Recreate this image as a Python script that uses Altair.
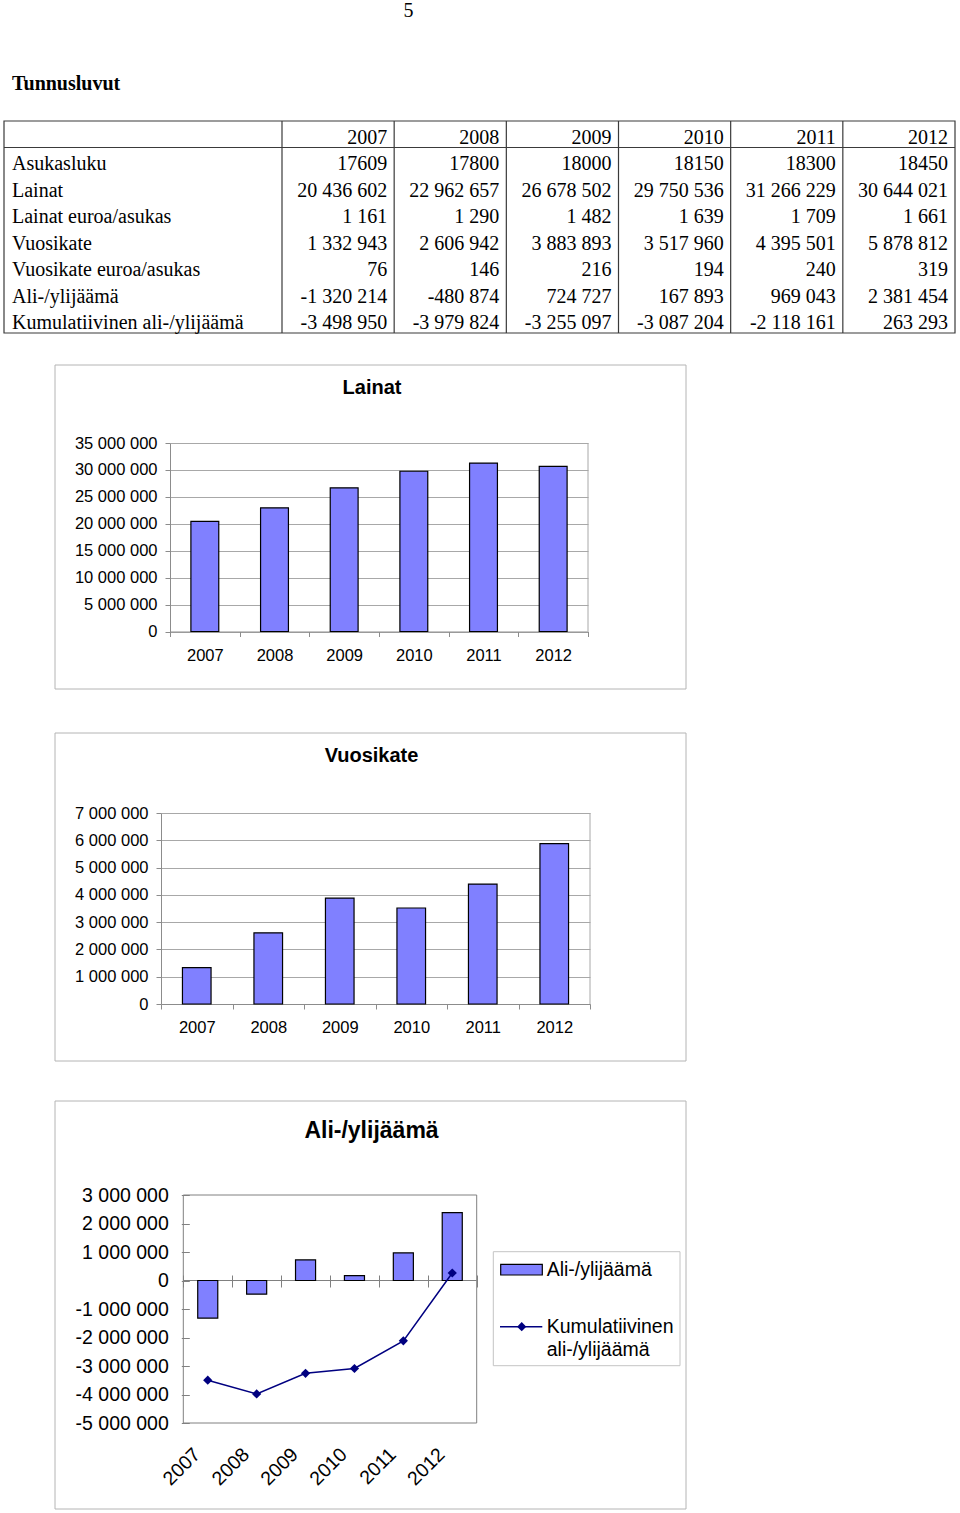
import altair as alt
import pandas as pd

# ---------------- data ----------------
YEARS = ["2007", "2008", "2009", "2010", "2011", "2012"]
ROW_NAMES = ["Asukasluku", "Lainat", "Lainat euroa/asukas", "Vuosikate",
             "Vuosikate euroa/asukas", "Ali-/ylijäämä", "Kumulatiivinen ali-/ylijäämä"]
ASUKASLUKU = [17609, 17800, 18000, 18150, 18300, 18450]
LAINAT = [20436602, 22962657, 26678502, 29750536, 31266229, 30644021]
LAINAT_PER_ASUKAS = [1161, 1290, 1482, 1639, 1709, 1661]
VUOSIKATE = [1332943, 2606942, 3883893, 3517960, 4395501, 5878812]
VUOSIKATE_PER_ASUKAS = [76, 146, 216, 194, 240, 319]
ALIJAAMA = [-1320214, -480874, 724727, 167893, 969043, 2381454]
KUMULATIIVINEN = [-3498950, -3979824, -3255097, -3087204, -2118161, 263293]

LAINAT_TICKS = [0, 5000000, 10000000, 15000000, 20000000, 25000000, 30000000, 35000000]
VUOSIKATE_TICKS = [0, 1000000, 2000000, 3000000, 4000000, 5000000, 6000000, 7000000]
ALIJAAMA_TICKS = [-5000000, -4000000, -3000000, -2000000, -1000000, 0,
                  1000000, 2000000, 3000000]

PAGE_NUMBER = "5"
HEADING = "Tunnusluvut"
CHART_TITLES = ["Lainat", "Vuosikate", "Ali-/ylijäämä"]
LEGEND_BAR = "Ali-/ylijäämä"
LEGEND_LINE = ["Kumulatiivinen", "ali-/ylijäämä"]

# ---------------- style ----------------
W, H = 960, 1513
SANS = "Liberation Sans"
SERIF = "Liberation Serif"
BAR_FILL = "#8080FF"
NAVY = "#000080"
GRID = "#a8a8a8"
AXIS_GRAY = "#8c8c8c"
FRAME = "#b4b4b4"
DARK_FRAME = "#808080"
TABLE_LINE = "#3a3a3a"


def spaced(v):
    s = f"{abs(v):,}".replace(",", " ")
    return ("-" if v < 0 else "") + s


def one(**kw):
    return pd.DataFrame({k: [v] for k, v in kw.items()})


def box(x0, x1, y0, y1, stroke, fill="white", fill_opacity=0.0, sw=1.0):
    return alt.Chart(one(k=0)).mark_rect(
        fill=fill, fillOpacity=fill_opacity, stroke=stroke, strokeWidth=sw
    ).encode(x=alt.value(x0), x2=alt.value(x1), y=alt.value(y0), y2=alt.value(y1))


def text(t, x, y, size, font=SANS, weight="normal", align="center", baseline="middle"):
    return alt.Chart(one(t=t)).mark_text(
        align=align, baseline=baseline, font=font, fontSize=size,
        fontWeight=weight, color="black"
    ).encode(text="t:N", x=alt.value(x), y=alt.value(y))


def hline(x0, x1, y, color, sw=1.0):
    return alt.Chart(one(k=0)).mark_rule(color=color, strokeWidth=sw).encode(
        x=alt.value(x0), x2=alt.value(x1), y=alt.value(y))


def vline(x, y0, y1, color, sw=1.0):
    return alt.Chart(one(k=0)).mark_rule(color=color, strokeWidth=sw).encode(
        x=alt.value(x), y=alt.value(y0), y2=alt.value(y1))


# ---------------- header ----------------
header = alt.layer(
    text(PAGE_NUMBER, 408.5, 16.7, 20, font=SERIF, baseline="alphabetic"),
    text(HEADING, 12, 90, 20, font=SERIF, weight="bold", align="left", baseline="alphabetic"),
)

# ---------------- table ----------------
row_values = [
    (ASUKASLUKU, False), (LAINAT, True), (LAINAT_PER_ASUKAS, True), (VUOSIKATE, True),
    (VUOSIKATE_PER_ASUKAS, True), (ALIJAAMA, True), (KUMULATIIVINEN, True),
]
cells = [{"row": "hdr", "year": y, "label": y} for y in YEARS]
for name, (vals, sp) in zip(ROW_NAMES, row_values):
    for y, v in zip(YEARS, vals):
        cells.append({"row": name, "year": y, "label": spaced(v) if sp else str(v)})
cells_df = pd.DataFrame(cells)
rows_df = pd.DataFrame({"row": ROW_NAMES})

row_scale = alt.Scale(domain=["hdr"] + ROW_NAMES, range=[121, 333], paddingInner=0, paddingOuter=0)
col_scale = alt.Scale(domain=YEARS, range=[282, 955], paddingInner=0, paddingOuter=0)

table_cells = alt.Chart(cells_df).mark_text(
    align="right", baseline="alphabetic", dx=-7, dy=22.5, font=SERIF, fontSize=20, color="black"
).encode(
    x=alt.X("year:N", scale=col_scale, bandPosition=1, axis=None),
    y=alt.Y("row:N", scale=row_scale, bandPosition=0, axis=None),
    text="label:N",
)
table_rows = alt.Chart(rows_df).mark_text(
    align="left", baseline="alphabetic", dy=22.5, font=SERIF, fontSize=20, color="black"
).encode(
    x=alt.value(12),
    y=alt.Y("row:N", scale=row_scale, bandPosition=0, axis=None),
    text="row:N",
)
table_vlines = alt.Chart(pd.DataFrame({"year": YEARS})).mark_rule(color=TABLE_LINE, strokeWidth=1.2).encode(
    x=alt.X("year:N", scale=col_scale, bandPosition=0, axis=None),
    y=alt.value(121), y2=alt.value(333),
)
table_hline = alt.Chart(pd.DataFrame({"row": [ROW_NAMES[0]]})).mark_rule(color=TABLE_LINE, strokeWidth=1.2).encode(
    y=alt.Y("row:N", scale=row_scale, bandPosition=0, axis=None),
    x=alt.value(4), x2=alt.value(955),
)
table = alt.layer(
    box(4, 955, 121, 333, TABLE_LINE, sw=1.2),
    table_vlines, table_hline, table_rows, table_cells,
)


# ---------------- bar charts (Lainat, Vuosikate) ----------------
def bar_chart(values, ticks, title, frame, title_pos, xr, yr, xpad):
    df = pd.DataFrame({"year": YEARS, "value": values})
    xs = alt.Scale(domain=YEARS, range=xr, paddingInner=0, paddingOuter=0)
    ys = alt.Scale(domain=[ticks[0], ticks[-1]], range=yr, nice=False, zero=True)
    bars = alt.Chart(df).mark_bar(
        width={"band": 0.4}, fill=BAR_FILL, stroke="black", strokeWidth=1.2
    ).encode(
        x=alt.X("year:N", scale=xs, axis=alt.Axis(
            orient="bottom", offset=yr[0] - H, tickBand="extent", tickSize=5,
            tickColor=AXIS_GRAY, domainColor=AXIS_GRAY, labelFont=SANS, labelFontSize=16.5,
            labelColor="black", labelPadding=xpad, labelAngle=0, title=None, grid=False)),
        y=alt.Y("value:Q", scale=ys, axis=alt.Axis(
            orient="left", offset=-xr[0], values=ticks, format=",d", grid=True,
            gridColor=GRID, tickSize=5, tickColor=AXIS_GRAY, domainColor=AXIS_GRAY,
            labelPadding=8, labelFont=SANS, labelFontSize=16.5, labelColor="black",
            labelOverlap=False, title=None)),
    )
    return alt.layer(
        box(frame[0], frame[1], frame[2], frame[3], FRAME),
        text(title, title_pos[0], title_pos[1], 20, weight="bold"),
        vline(xr[1], yr[1], yr[0], GRID),
        bars,
    )


chart1 = bar_chart(LAINAT, LAINAT_TICKS, CHART_TITLES[0], (55, 686, 365, 689), (372, 387.5),
                   [170, 588], [631.5, 443], 11)
chart2 = bar_chart(VUOSIKATE, VUOSIKATE_TICKS, CHART_TITLES[1], (55, 686, 733, 1061), (371.5, 755.5),
                   [161, 590], [1004, 813], 10)

# ---------------- combined chart (Ali-/ylijäämä) ----------------
X3 = [183.3, 476.7]
Y3 = [1423, 1195]
df3 = pd.DataFrame({"year": YEARS, "ali": ALIJAAMA, "kum": KUMULATIIVINEN})
x3 = alt.Scale(domain=YEARS, range=X3, paddingInner=0, paddingOuter=0)
y3 = alt.Scale(domain=[ALIJAAMA_TICKS[0], ALIJAAMA_TICKS[-1]], range=Y3, nice=False, zero=True)

zero_rule = alt.Chart(pd.DataFrame({"v": [0]})).mark_rule(color=DARK_FRAME, strokeWidth=1).encode(
    y=alt.Y("v:Q", scale=y3, axis=None), x=alt.value(X3[0]), x2=alt.value(X3[1]))

bars3 = alt.Chart(df3).mark_bar(
    width={"band": 0.41}, fill=BAR_FILL, stroke="black", strokeWidth=1.2
).encode(
    x=alt.X("year:N", scale=x3, axis=alt.Axis(
        orient="bottom", offset=1275 - H, tickBand="extent", tickSize=12, tickColor=DARK_FRAME,
        labels=False, domain=False, grid=False, title=None)),
    y=alt.Y("ali:Q", scale=y3, axis=alt.Axis(
        orient="left", offset=-189.3, values=ALIJAAMA_TICKS, format=",d", tickSize=8,
        tickColor=DARK_FRAME, domain=False, grid=False, labelPadding=13, labelFont=SANS,
        labelFontSize=19.5, labelColor="black", labelOverlap=False, title=None)),
    y2=alt.datum(0),
)
line3 = alt.Chart(df3).mark_line(
    color=NAVY, strokeWidth=1.5,
    point=alt.OverlayMarkDef(shape="diamond", size=85, filled=True, color=NAVY),
).encode(
    x=alt.X("year:N", scale=x3, axis=alt.Axis(
        orient="bottom", offset=Y3[0] - H, labelAngle=-45, labelAlign="right",
        labelBaseline="middle", ticks=False, tickSize=0, domain=False, labelPadding=28,
        labelOffset=-10.5, labelFont=SANS, labelFontSize=19.5, labelColor="black",
        title=None, grid=False)),
    y=alt.Y("kum:Q", scale=y3, axis=None),
)

legend_point = alt.Chart(one(k=0)).mark_point(
    shape="diamond", size=85, filled=True, color=NAVY, opacity=1
).encode(x=alt.value(521.7), y=alt.value(1326.7))

chart3 = alt.layer(
    box(55, 686, 1101, 1509, FRAME),
    text(CHART_TITLES[2], 371.5, 1130.5, 23, weight="bold"),
    box(X3[0], X3[1], Y3[1], Y3[0], DARK_FRAME),
    zero_rule,
    bars3,
    line3,
    box(493.3, 680, 1251.7, 1365.7, "#c4c4c4"),
    box(500.7, 542.3, 1264.3, 1275, "black", fill=BAR_FILL, fill_opacity=1.0, sw=1.2),
    text(LEGEND_BAR, 546.7, 1269.5, 19.5, align="left"),
    hline(500, 542.3, 1326.7, NAVY, sw=1.5),
    legend_point,
    text(LEGEND_LINE[0], 546.7, 1326.7, 19.5, align="left"),
    text(LEGEND_LINE[1], 546.7, 1349.5, 19.5, align="left"),
).resolve_axis(x="independent", y="independent")

chart = alt.layer(header, table, chart1, chart2, chart3).resolve_scale(
    x="independent", y="independent"
).properties(
    width=W, height=H, autosize=alt.AutoSizeParams(type="none"), padding=0, background="white"
).configure(
    view={"strokeWidth": 0, "stroke": "transparent"},
    locale={"number": {"decimal": ",", "thousands": " ", "grouping": [3],
                       "currency": ["", " €"], "minus": "-"}},
)

chart.save("out.html", embed_options={"renderer": "svg", "actions": False})
